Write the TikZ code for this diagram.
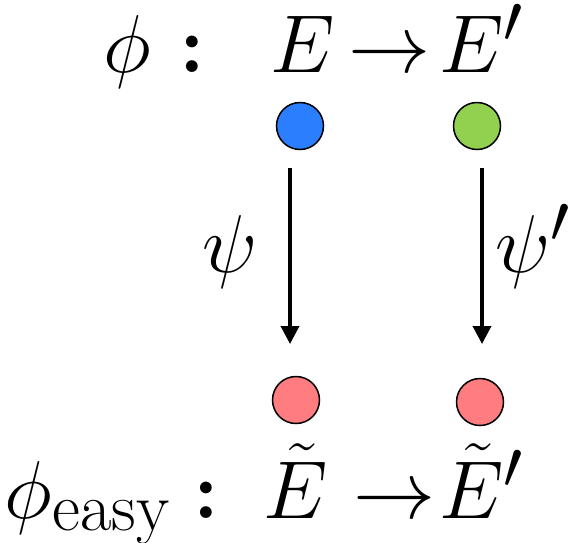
\documentclass[tikz,border=0pt]{standalone}
\usepackage{amsmath}
\usetikzlibrary{arrows.meta}
\definecolor{cblue}{HTML}{2B7FFF}
\definecolor{cgreen}{HTML}{92D050}
\definecolor{cred}{HTML}{FF7C80}
\tikzset{
  lbl/.style={inner sep=0pt, anchor=base, font=\Huge, scale=3.3},
  dot/.style={circle, draw=black, line width=1.5pt, minimum size=47pt, inner sep=0pt},
  maparrow/.style={line width=3.5pt, -{Triangle[length=18pt,width=18pt]}}
}
\begin{document}
\begin{tikzpicture}[x=1pt,y=-1pt]
\useasboundingbox (0,0) rectangle (576,542);
% top row
\node[lbl] (phi) at (127,72) {$\phi$};
\node[lbl] (col1) at (192,72) {$\boldsymbol{:}$};
\node[lbl] (E) at (303,72) {$E$};
\node[lbl] (arr1) at (390,72) {$\rightarrow$};
\node[lbl] (Ep) at (482,72) {$E'$};
% circles
\node[dot, fill=cblue] (b) at (300,126) {};
\node[dot, fill=cgreen] (g) at (477,126) {};
\node[dot, fill=cred] (r1) at (296,400) {};
\node[dot, fill=cred] (r2) at (480,402) {};
% arrows
\coordinate (s1) at (290,168);
\coordinate (t1) at (290,344);
\coordinate (s2) at (482,168);
\coordinate (t2) at (482,344);
\draw[maparrow] (s1) -- (t1);
\draw[maparrow] (s2) -- (t2);
\node[lbl] (psi) at (230,272) {$\psi$};
\node[lbl] (psip) at (533,272) {$\psi'$};
% bottom row
\node[lbl, anchor=base west] (phie) at (4,518) {$\phi_{\text{easy}}$};
\node[lbl] (col2) at (206,518) {$\boldsymbol{:}$};
\node[lbl] (Et) at (296,518) {$\tilde{E}$};
\node[lbl] (arr2) at (395,518) {$\rightarrow$};
\node[lbl] (Etp) at (482,518) {$\tilde{E}'$};
\end{tikzpicture}
\end{document}
